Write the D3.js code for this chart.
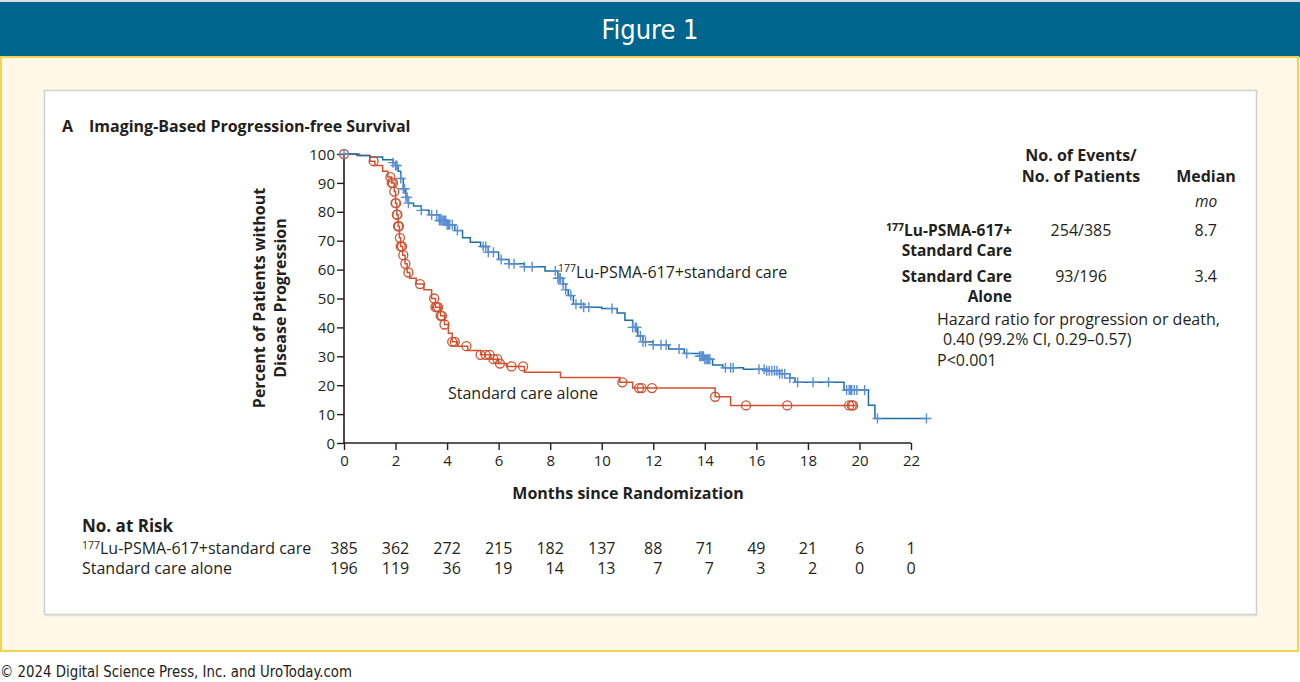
<!DOCTYPE html>
<html><head><meta charset="utf-8">
<script src="https://cdn.jsdelivr.net/npm/d3@7"></script>
<style>
html,body{margin:0;padding:0;background:#fff;}
svg{display:block;}
text{font-family:"Open Sans","Noto Sans",sans-serif;fill:#231f20;}
</style></head>
<body>
<svg id="c" width="1300" height="682"></svg>
<script>
// ---------- data ----------
const monthTicks = [0,2,4,6,8,10,12,14,16,18,20,22];
const pctTicks = [0,10,20,30,40,50,60,70,80,90,100];

// 177Lu-PSMA-617 + standard care: step times (months) and survival (%)
const luTimes = [0,0.5,1.0,1.5,1.9,2.0,2.1,2.2,2.3,2.4,2.5,2.7,3.0,3.3,3.7,4.0,4.3,4.6,4.9,5.3,5.6,6.0,6.4,7.0,7.8,8.3,8.5,8.6,8.7,8.9,9.3,10.0,10.6,10.9,11.2,11.4,11.6,12.0,12.6,13.2,13.8,14.0,14.3,14.7,15.5,16.4,16.9,17.3,17.5,19.4,20.35,20.6,22.6];
const luSurv  = [100,99.5,99,98,97,96,94,91.5,88,85,83,82,80.5,79,77,75.5,73.5,71,69.5,68,66,63.5,62,61,59.5,57,55,53,51,48,47,46.5,45,42.5,40,37,35,34,32.5,31,30,29,27,26,25.5,25,24,22.5,21,18.3,13.1,8.5,8.5];
const luCensor = [0,1.9,2.0,2.05,2.2,2.3,2.35,2.4,2.45,2.5,3.0,3.4,3.6,3.7,3.75,3.8,3.85,3.9,3.95,4.0,4.05,4.1,4.2,4.4,5.4,5.5,5.6,5.8,6.1,6.4,6.6,7.0,7.3,8.2,8.3,8.35,8.4,8.5,8.6,8.8,9.0,9.2,9.3,9.5,10.4,11.2,11.3,11.35,11.5,11.6,11.7,12.0,12.3,12.5,13.0,13.3,13.8,13.85,13.9,13.95,14.0,14.05,14.1,14.15,14.2,14.8,15.0,15.1,16.1,16.3,16.4,16.5,16.6,16.7,16.8,16.9,17.0,17.1,17.3,17.6,18.2,18.8,19.5,19.6,19.65,19.7,19.8,19.9,20.2,20.7,22.6];

// Standard care alone
const scTimes = [0,0.6,1.0,1.2,1.5,1.7,1.85,1.95,2.0,2.05,2.1,2.15,2.2,2.28,2.37,2.45,2.55,2.8,3.1,3.4,3.55,3.75,3.9,4.05,4.2,4.4,4.8,5.3,5.7,6.0,6.3,7.0,8.4,10.7,11.2,14.4,15.0,19.85];
const scSurv  = [100,99.5,97.5,96,94,92,90,87,83,79,75,71,68,65,62,59,57,55,53,50,47,44,41,38,35,33.5,32,30.5,29,27.5,26.5,24.5,22.7,21,19,16,13,13];
const scCensor = [0,1.15,1.8,1.85,1.9,1.95,2.0,2.02,2.05,2.07,2.1,2.13,2.17,2.2,2.25,2.3,2.38,2.5,2.95,3.5,3.55,3.6,3.65,3.75,3.8,3.9,4.2,4.3,4.75,5.3,5.5,5.65,5.8,5.95,6.05,6.5,6.95,10.8,11.45,11.55,11.95,14.4,15.6,17.2,19.6,19.7,19.75];

const riskLu = [385,362,272,215,182,137,88,71,49,21,6,1];
const riskSc = [196,119,36,19,14,13,7,7,3,2,0,0];

// ---------- drawing ----------
const svg = d3.select("#c");
const condensed = '"Liberation Sans Narrow","DejaVu Sans Condensed","Roboto",sans-serif';
const FS = "16px";

// header band
svg.append("rect").attr("x",0).attr("y",0).attr("width",1300).attr("height",2).attr("fill","#d8dde0");
svg.append("rect").attr("x",0).attr("y",2).attr("width",1300).attr("height",55).attr("fill","#006690");
svg.append("text").attr("x",650).attr("y",39).attr("text-anchor","middle")
  .style("font-family",condensed).style("font-size","27px").style("fill","#fff").text("Figure 1");
// cream panel
svg.append("rect").attr("x",1).attr("y",57).attr("width",1297).attr("height",594)
  .attr("fill","#fff8e9").attr("stroke","#f6d24e").attr("stroke-width",2);
// white panel
svg.append("rect").attr("x",44.5).attr("y",90.5).attr("width",1212).attr("height",524)
  .attr("fill","#fff").attr("stroke","#cfcfcf").attr("stroke-width",1.5);
svg.append("line").attr("x1",45).attr("x2",1257).attr("y1",615.5).attr("y2",615.5).attr("stroke","#e2e0dc").attr("stroke-width",1.5);
// footer
svg.append("text").attr("x",0).attr("y",677)
  .style("font-family",condensed).style("font-size","15px").style("fill","#222")
  .attr("textLength",352).attr("lengthAdjust","spacingAndGlyphs")
  .text("© 2024 Digital Science Press, Inc. and UroToday.com");

// title
svg.append("text").attr("x",62).attr("y",132).style("font-size","16px").style("font-weight","bold")
  .text("A");
svg.append("text").attr("x",89).attr("y",132).style("font-size","16px").style("font-weight","bold")
  .text("Imaging-Based Progression-free Survival");

// scales
const x = d3.scaleLinear().domain([0,22]).range([344,911]);
const y = d3.scaleLinear().domain([0,100]).range([443,154]);

// axes
const xAxis = svg.append("g").attr("transform","translate(0,443)")
  .call(d3.axisBottom(x).tickValues(monthTicks).tickSize(7).tickSizeOuter(0).tickPadding(5));
const yAxis = svg.append("g").attr("transform","translate(344,0)")
  .call(d3.axisLeft(y).tickValues(pctTicks).tickSize(7).tickSizeOuter(0).tickPadding(2));
[xAxis,yAxis].forEach(a=>{
  a.select(".domain").attr("stroke","#231f20").attr("stroke-width",1.6);
  a.selectAll(".tick line").attr("stroke","#231f20").attr("stroke-width",1.4);
  a.selectAll(".tick text").style("font-family",'"Open Sans",sans-serif').style("font-size","15px").style("fill","#231f20");
});
xAxis.select(".domain").attr("d","M344,0H911");
yAxis.select(".domain").attr("d","M0,443V154");
yAxis.selectAll(".tick text").attr("dy","0.34em");

// axis titles
svg.append("text").attr("x",628).attr("y",499).attr("text-anchor","middle")
  .style("font-size","16px").style("font-weight","bold").text("Months since Randomization");
const yl = svg.append("g").attr("transform","translate(265,298) rotate(-90)");
yl.append("text").attr("x",0).attr("y",0).attr("text-anchor","middle")
  .style("font-size","16px").style("font-weight","bold").text("Percent of Patients without");
yl.append("text").attr("x",0).attr("y",21).attr("text-anchor","middle")
  .style("font-size","16px").style("font-weight","bold").text("Disease Progression");

// curves
const stepLine = d3.line().x(d=>x(d[0])).y(d=>y(d[1])).curve(d3.curveStepAfter);
function survAt(times,surv,t){ let v=surv[0]; for(let i=0;i<times.length;i++){ if(times[i]<=t) v=surv[i]; } return v; }

const red="#d2502f", blueLine="#1b6fa3", blueMark="#5a8ed2";
svg.append("path").datum(scTimes.map((t,i)=>[t,scSurv[i]]))
  .attr("d",stepLine).attr("fill","none").attr("stroke",red).attr("stroke-width",1.5);
svg.append("path").datum(luTimes.map((t,i)=>[t,luSurv[i]]))
  .attr("d",stepLine).attr("fill","none").attr("stroke",blueLine).attr("stroke-width",1.5);

// censor marks
svg.append("g").selectAll("circle").data(scCensor).join("circle")
  .attr("cx",d=>x(d)).attr("cy",d=>y(survAt(scTimes,scSurv,d)))
  .attr("r",4.5).attr("fill","none").attr("stroke",red).attr("stroke-width",1.3);
svg.append("g").selectAll("path").data(luCensor).join("path")
  .attr("d",d=>{const cx=x(d), cy=y(survAt(luTimes,luSurv,d)); return `M${cx-5},${cy}H${cx+5}M${cx},${cy-5}V${cy+5}`;})
  .attr("fill","none").attr("stroke",blueMark).attr("stroke-width",1.4);

// curve labels
const lab1 = svg.append("text").attr("x",558).attr("y",278).style("font-size",FS);
lab1.append("tspan").attr("dy","-6").style("font-size","10.5px").text("177");
lab1.append("tspan").attr("dy","6").text("Lu-PSMA-617+standard care");
svg.append("text").attr("x",448).attr("y",399).style("font-size",FS).text("Standard care alone");

// right table
const tb = svg.append("g");
tb.append("text").attr("x",1081).attr("y",161).attr("text-anchor","middle").style("font-size","16px").style("font-weight","bold").text("No. of Events/");
tb.append("text").attr("x",1081).attr("y",182).attr("text-anchor","middle").style("font-size","16px").style("font-weight","bold").text("No. of Patients");
tb.append("text").attr("x",1206).attr("y",182).attr("text-anchor","middle").style("font-size","16px").style("font-weight","bold").text("Median");
tb.append("text").attr("x",1206).attr("y",207).attr("text-anchor","middle").style("font-size","15.5px").style("font-style","italic").text("mo");
const r1 = tb.append("text").attr("x",1012).attr("y",236).attr("text-anchor","end").style("font-size","15.5px").style("font-weight","bold");
r1.append("tspan").attr("dy","-5").style("font-size","10.5px").text("177");
r1.append("tspan").attr("dy","5").text("Lu-PSMA-617+");
tb.append("text").attr("x",1012).attr("y",256).attr("text-anchor","end").style("font-size","15.5px").style("font-weight","bold").text("Standard Care");
tb.append("text").attr("x",1012).attr("y",282).attr("text-anchor","end").style("font-size","15.5px").style("font-weight","bold").text("Standard Care");
tb.append("text").attr("x",1012).attr("y",302).attr("text-anchor","end").style("font-size","15.5px").style("font-weight","bold").text("Alone");
tb.append("text").attr("x",1081).attr("y",236).attr("text-anchor","middle").style("font-size",FS).text("254/385");
tb.append("text").attr("x",1081).attr("y",282).attr("text-anchor","middle").style("font-size",FS).text("93/196");
tb.append("text").attr("x",1217).attr("y",236).attr("text-anchor","end").style("font-size",FS).text("8.7");
tb.append("text").attr("x",1217).attr("y",282).attr("text-anchor","end").style("font-size",FS).text("3.4");
tb.append("text").attr("x",937).attr("y",325).style("font-size",FS).text("Hazard ratio for progression or death,");
tb.append("text").attr("x",943).attr("y",345).style("font-size",FS).text("0.40 (99.2% CI, 0.29\u20130.57)");
tb.append("text").attr("x",937).attr("y",366).style("font-size",FS).text("P<0.001");

// risk table
svg.append("text").attr("x",82).attr("y",532).style("font-size","17px").style("font-weight","bold").text("No. at Risk");
const rl1 = svg.append("text").attr("x",82).attr("y",554).style("font-size",FS);
rl1.append("tspan").attr("dy","-5").style("font-size","10.5px").text("177");
rl1.append("tspan").attr("dy","5").text("Lu-PSMA-617+standard care");
svg.append("text").attr("x",82).attr("y",574).style("font-size",FS).text("Standard care alone");
const rightEdges = [];
svg.append("g").selectAll("text").data(riskLu).join("text")
  .attr("x",(d,i)=>x(monthTicks[i])).attr("y",554).attr("text-anchor","middle").style("font-size",FS)
  .text(d=>d).each(function(d,i){ rightEdges[i] = x(monthTicks[i]) + this.getComputedTextLength()/2; });
svg.append("g").selectAll("text").data(riskSc).join("text")
  .attr("x",(d,i)=>rightEdges[i]).attr("y",574).attr("text-anchor","end").style("font-size",FS)
  .text(d=>d);
</script>
</body></html>
